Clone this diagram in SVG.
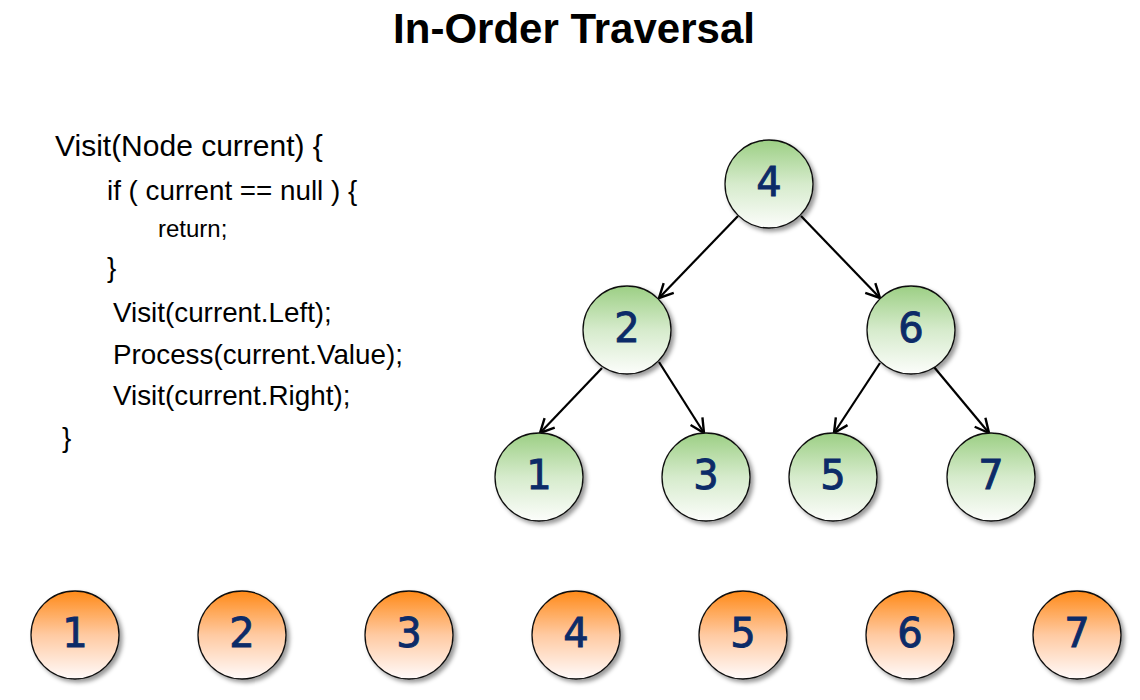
<svg xmlns="http://www.w3.org/2000/svg" width="1140" height="700" viewBox="0 0 1140 700">
<style>
.title{font-family:"Liberation Sans",Arial,sans-serif;font-weight:bold;font-size:42px;fill:#000;text-anchor:middle}
.code{font-family:"Liberation Sans",Arial,sans-serif;fill:#000}
.c1{font-size:30px}
.c2{font-size:27.8px}
.c3{font-size:24px}
.circ{stroke:#111;stroke-width:1.3;filter:url(#sh)}
.g{fill:url(#gg)}
.o{fill:url(#og)}
.num{font-family:"DejaVu Sans",sans-serif;font-size:40px;fill:#0c2b68;stroke:#0c2b68;stroke-width:0.9;text-anchor:middle}
.edge{stroke:#000;stroke-width:2.2;fill:none;marker-end:url(#arr)}
</style>
<defs>
<linearGradient id="gg" x1="0" y1="0" x2="0" y2="1">
<stop offset="0" stop-color="#9ccf84"/>
<stop offset="0.5" stop-color="#d6ebcc"/>
<stop offset="1" stop-color="#fcfdfb"/>
</linearGradient>
<linearGradient id="og" x1="0" y1="0" x2="0" y2="1">
<stop offset="0" stop-color="#ff8a18"/>
<stop offset="0.5" stop-color="#ffcaa2"/>
<stop offset="1" stop-color="#fffafa"/>
</linearGradient>
<filter id="sh" x="-20%" y="-20%" width="150%" height="150%">
<feDropShadow dx="3" dy="3" stdDeviation="2" flood-color="#000" flood-opacity="0.4"/>
</filter>
<marker id="arr" viewBox="0 0 18 18" refX="16" refY="9" markerUnits="userSpaceOnUse" markerWidth="18" markerHeight="18" orient="auto">
<path d="M2,2 L16,9 L2,16" stroke="#000" stroke-width="2.4" fill="none"/>
</marker>
</defs>
<rect width="1140" height="700" fill="#fff"/>
<text class="title" x="574" y="43">In-Order Traversal</text>
<g id="code" class="code">
<text class="c1" x="55" y="156">Visit(Node current) {</text>
<text class="c2" x="107" y="200">if ( current == null ) {</text>
<text class="c3" x="158" y="237">return;</text>
<text class="c2" x="107" y="277">}</text>
<text class="c2" x="113" y="322">Visit(current.Left);</text>
<text class="c2" x="113" y="364">Process(current.Value);</text>
<text class="c2" x="113" y="405">Visit(current.Right);</text>
<text class="c2" x="62" y="447">}</text>
</g>
<g id="connectors">
<line class="edge" x1="738" y1="216" x2="659" y2="298"/>
<line class="edge" x1="801" y1="216" x2="880" y2="298"/>
<line class="edge" x1="602" y1="368" x2="540" y2="433"/>
<line class="edge" x1="659" y1="362" x2="704" y2="433"/>
<line class="edge" x1="880" y1="363" x2="834" y2="433"/>
<line class="edge" x1="934" y1="367" x2="989" y2="433"/>
</g>
<g id="t4"><circle class="circ g" cx="769" cy="184" r="44"/><text class="num" x="769" y="196">4</text></g>
<g id="t2"><circle class="circ g" cx="627" cy="330" r="44"/><text class="num" x="627" y="342">2</text></g>
<g id="t6"><circle class="circ g" cx="911" cy="330" r="44"/><text class="num" x="911" y="342">6</text></g>
<g id="t1"><circle class="circ g" cx="539" cy="477" r="44"/><text class="num" x="539" y="489">1</text></g>
<g id="t3"><circle class="circ g" cx="706" cy="477" r="44"/><text class="num" x="706" y="489">3</text></g>
<g id="t5"><circle class="circ g" cx="833" cy="477" r="44"/><text class="num" x="833" y="489">5</text></g>
<g id="t7"><circle class="circ g" cx="991" cy="477" r="44"/><text class="num" x="991" y="489">7</text></g>
<g id="o1"><circle class="circ o" cx="75" cy="635" r="44"/><text class="num" x="75" y="647">1</text></g>
<g id="o2"><circle class="circ o" cx="242" cy="635" r="44"/><text class="num" x="242" y="647">2</text></g>
<g id="o3"><circle class="circ o" cx="409" cy="635" r="44"/><text class="num" x="409" y="647">3</text></g>
<g id="o4"><circle class="circ o" cx="576" cy="635" r="44"/><text class="num" x="576" y="647">4</text></g>
<g id="o5"><circle class="circ o" cx="743" cy="635" r="44"/><text class="num" x="743" y="647">5</text></g>
<g id="o6"><circle class="circ o" cx="910" cy="635" r="44"/><text class="num" x="910" y="647">6</text></g>
<g id="o7"><circle class="circ o" cx="1077" cy="635" r="44"/><text class="num" x="1077" y="647">7</text></g>
</svg>
